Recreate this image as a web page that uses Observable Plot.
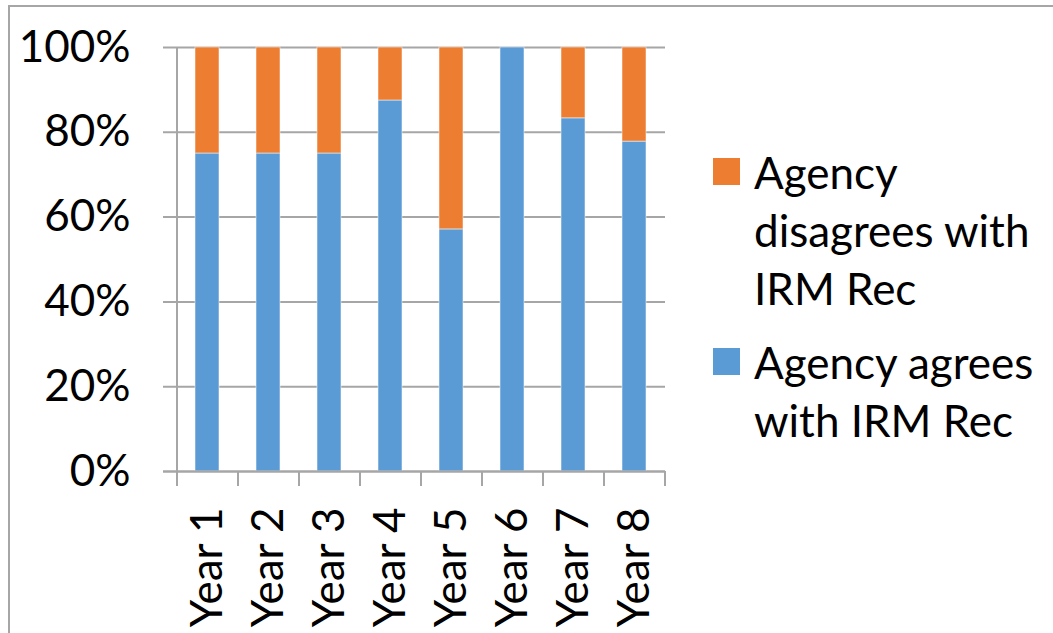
<!DOCTYPE html>
<html>
<head>
<meta charset="utf-8">
<script src="https://cdn.jsdelivr.net/npm/d3@7"></script>
<script src="https://cdn.jsdelivr.net/npm/@observablehq/plot@0.6"></script>
<style>
  html, body { margin: 0; padding: 0; background: #fff; }
  #wrap { position: relative; width: 1053px; height: 633px; overflow: hidden; font-family: Lato, "Open Sans", sans-serif; }
  #frame { position: absolute; left: 8px; top: 5px; width: 1100px; height: 700px; border-left: 2px solid #a6a6a6; border-top: 2px solid #a6a6a6; box-sizing: border-box; }
  #chart { position: absolute; left: 0; top: 0; }
  #legend { position: absolute; left: 713px; top: 143px; font-size: 44px; line-height: 58px; color: #000; }
  .item { display: flex; align-items: flex-start; }
  .sw { width: 27px; height: 27px; margin-top: 15px; margin-right: 14px; flex: none; }
  .item + .item { margin-top: 16px; }
</style>
</head>
<body>
<div id="wrap">
  <div id="frame"></div>
  <div id="chart"></div>
  <div id="legend"></div>
</div>
<script>
const years = ["Year 1", "Year 2", "Year 3", "Year 4", "Year 5", "Year 6", "Year 7", "Year 8"];
const agrees = [0.75, 0.75, 0.75, 0.875, 0.571, 1.0, 0.833, 0.778];
const disagrees = [0.25, 0.25, 0.25, 0.125, 0.429, 0.0, 0.167, 0.222];
const seriesNames = ["Agency agrees with IRM Rec", "Agency disagrees with IRM Rec"];
const seriesColors = ["#5B9BD5", "#ED7D31"];
const yTicks = [0, 0.2, 0.4, 0.6, 0.8, 1.0];

const data = [];
years.forEach((yr, i) => {
  data.push({year: yr, series: seriesNames[0], value: agrees[i]});
  data.push({year: yr, series: seriesNames[1], value: disagrees[i]});
});

const W = 1053, H = 633;
const mL = 177, mR = 388, mT = 47, mB = 162;
const step = (W - mL - mR) / years.length;
const grid = "#a6a6a6";

const plot = Plot.plot({
  width: W,
  height: H,
  marginLeft: mL,
  marginRight: mR,
  marginTop: mT,
  marginBottom: mB,
  style: {fontFamily: "Lato, 'Open Sans', sans-serif", fontSize: "44px", color: "#000", background: "transparent", overflow: "visible"},
  x: {domain: years, paddingInner: 0.6, paddingOuter: 0.3, align: 0.5},
  y: {domain: [0, 1]},
  color: {domain: seriesNames, range: seriesColors},
  marks: [
    Plot.gridY(yTicks, {stroke: grid, strokeOpacity: 1, strokeWidth: 2, insetLeft: -14}),
    Plot.barY(data, {x: "year", y: "value", fill: "series", order: seriesNames, stroke: "#ffffff", strokeOpacity: 0.5, strokeWidth: 1}),
    // vertical axis line
    Plot.ruleX([years[0]], {dx: -step / 2, y1: 1, y2: 0, stroke: grid, strokeWidth: 2, insetBottom: -15}),
    // category boundary tick marks
    Plot.ruleX(years, {dx: step / 2, y1: 0, y2: 0, stroke: grid, strokeWidth: 2, insetBottom: -15}),
    Plot.ruleY([0], {stroke: grid, strokeWidth: 2, insetLeft: -14}),
    Plot.axisY({ticks: yTicks, tickFormat: d => Math.round(d * 100) + "%", tickSize: 0, tickPadding: 47, label: null, fontSize: 44}),
    Plot.axisX({tickRotate: -90, tickSize: 0, tickPadding: 36, label: null, fontSize: 44})
  ]
});
document.getElementById("chart").appendChild(plot);

const legend = document.getElementById("legend");
const legendItems = [
  {name: seriesNames[1], lines: ["Agency", "disagrees with", "IRM Rec"], color: seriesColors[1]},
  {name: seriesNames[0], lines: ["Agency agrees", "with IRM Rec"], color: seriesColors[0]}
];
legendItems.forEach(it => {
  const row = document.createElement("div");
  row.className = "item";
  const sw = document.createElement("div");
  sw.className = "sw";
  sw.style.background = it.color;
  const txt = document.createElement("div");
  txt.innerHTML = it.lines.join("<br>");
  row.appendChild(sw);
  row.appendChild(txt);
  legend.appendChild(row);
});
</script>
</body>
</html>
